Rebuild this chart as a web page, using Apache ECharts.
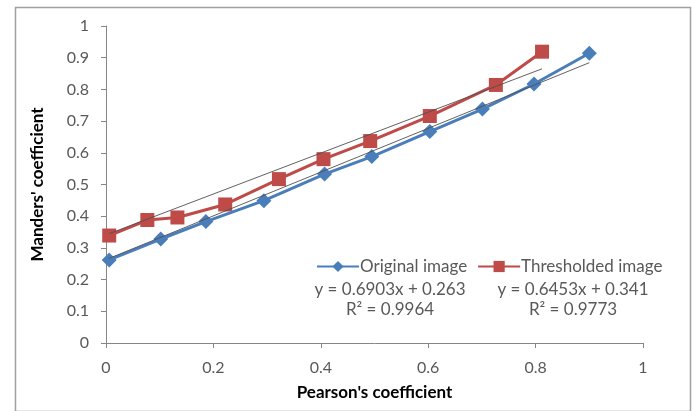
<!DOCTYPE html>
<html>
<head>
<meta charset="utf-8">
<script src="https://cdn.jsdelivr.net/npm/echarts@6/dist/echarts.min.js"></script>
<style>
  html, body { margin: 0; padding: 0; background: #fff; }
  #chart { width: 695px; height: 411px; }
</style>
</head>
<body>
<div id="chart"></div>
<script>
// Pearson's vs Manders' coefficient
const originalX = [0.006, 0.102, 0.186, 0.294, 0.407, 0.495, 0.603, 0.701, 0.797, 0.9]
const originalY = [0.262, 0.328, 0.383, 0.449, 0.533, 0.588, 0.667, 0.738, 0.817, 0.914]
const thresholdX = [0.006, 0.077, 0.133, 0.222, 0.322, 0.405, 0.492, 0.603, 0.726, 0.812]
const thresholdY = [0.339, 0.388, 0.396, 0.437, 0.517, 0.58, 0.637, 0.716, 0.814, 0.919]

// linear trendlines, as printed on the chart
const originalFit = { slope: 0.6903, intercept: 0.263, r2: 0.9964 }
const thresholdFit = { slope: 0.6453, intercept: 0.341, r2: 0.9773 }

const textColor = '#595959'
const axisColor = '#868686'
const font = 'Lato, "Open Sans", sans-serif'

function pairs(xs, ys) {
  return xs.map((x, i) => [x, ys[i]])
}

function fitLine(fit, xs) {
  const x0 = xs[0]
  const x1 = xs[xs.length - 1]
  return [[x0, fit.slope * x0 + fit.intercept], [x1, fit.slope * x1 + fit.intercept]]
}

function eqText(fit) {
  return 'y = ' + fit.slope + 'x + ' + fit.intercept
}

function label(text, x, y) {
  return {
    type: 'text', x: x, y: y,
    style: { text: text, fill: textColor, font: '17px ' + font, align: 'center', verticalAlign: 'middle' }
  }
}

const chart = echarts.init(document.getElementById('chart'))

const axisCommon = {
  type: 'value',
  min: 0,
  max: 1,
  axisLine: { show: true, lineStyle: { color: axisColor, width: 1 } },
  axisTick: { show: true, inside: false, length: 5, lineStyle: { color: axisColor } },
  splitLine: { show: false },
  axisLabel: { color: textColor, fontSize: 16, fontFamily: font },
  nameLocation: 'middle',
  nameTextStyle: { color: '#000', fontSize: 17, fontWeight: 'bold', fontFamily: font }
}

chart.setOption({
  animation: false,
  backgroundColor: '#fff',
  grid: { left: 106, right: 52, top: 26, bottom: 68 },
  xAxis: Object.assign({}, axisCommon, {
    interval: 0.2,
    name: "Pearson's coefficient",
    nameGap: 41,
    axisLabel: Object.assign({}, axisCommon.axisLabel, { margin: 17 })
  }),
  yAxis: Object.assign({}, axisCommon, {
    interval: 0.1,
    name: "Manders' coefficient",
    nameGap: 60,
    axisLabel: Object.assign({}, axisCommon.axisLabel, {
      margin: 17,
      formatter: v => String(Math.round(v * 10) / 10)
    })
  }),
  legend: {
    left: 311,
    top: 253,
    itemWidth: 42,
    itemHeight: 14,
    itemGap: 10,
    textStyle: { color: textColor, fontSize: 17, fontFamily: font, padding: [0, 0, 0, -4] },
    data: ['Original image', 'Thresholded image']
  },
  graphic: [
    {
      type: 'rect',
      left: 13,
      top: 5,
      shape: { width: 675, height: 404 },
      style: { fill: null, stroke: '#a0a0a0', lineWidth: 1.5 },
      silent: true
    },
    label(eqText(originalFit), 390, 290),
    label('R² = ' + originalFit.r2, 390, 310),
    label(eqText(thresholdFit), 573, 290),
    label('R² = ' + thresholdFit.r2, 573, 310)
  ],
  series: [
    {
      name: 'Original image',
      type: 'line',
      data: pairs(originalX, originalY),
      symbol: 'diamond',
      symbolSize: 15,
      lineStyle: { color: '#4A7EBB', width: 3 },
      itemStyle: { color: '#4A7EBB' },
      z: 3
    },
    {
      name: 'Thresholded image',
      type: 'line',
      data: pairs(thresholdX, thresholdY),
      symbol: 'rect',
      symbolSize: 14,
      lineStyle: { color: '#BE4B48', width: 3 },
      itemStyle: { color: '#BE4B48' },
      z: 2
    },
    {
      name: 'Original trend',
      type: 'line',
      data: fitLine(originalFit, originalX),
      symbol: 'none',
      lineStyle: { color: '#505050', width: 1, opacity: 0.9 },
      z: 4
    },
    {
      name: 'Threshold trend',
      type: 'line',
      data: fitLine(thresholdFit, thresholdX),
      symbol: 'none',
      lineStyle: { color: '#505050', width: 1, opacity: 0.9 },
      z: 4
    }
  ]
})
</script>
</body>
</html>
